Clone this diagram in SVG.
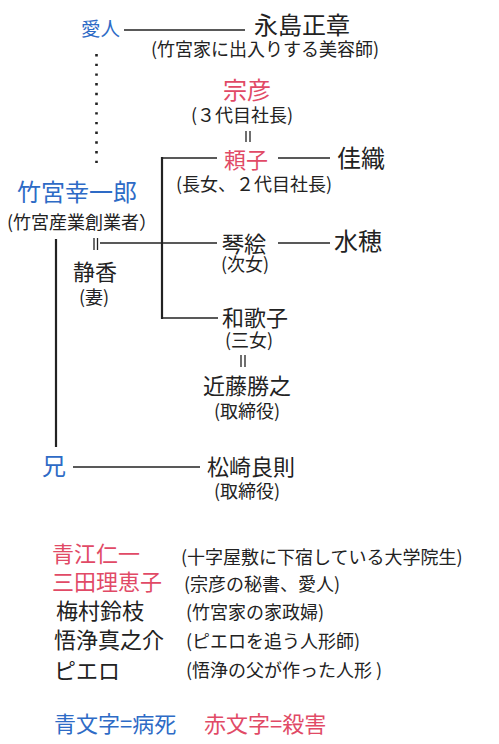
<svg xmlns="http://www.w3.org/2000/svg" width="499" height="744" viewBox="0 0 499 744">
<style>
text{font-family:"Noto Sans CJK JP","Noto Sans",sans-serif;fill:#222}
.n{font-size:22px}
.b{font-size:24px}
.s{font-size:18px}
.blue{fill:#2e6bc6}
.red{fill:#e14a66}
.ln{stroke:#222;stroke-width:1.6;fill:none}
.v{stroke:#222;stroke-width:2.2;fill:none}
.eq{stroke:#222;stroke-width:1.3;fill:none}
</style>
<rect width="499" height="744" fill="#fff"/>
<g id="connectors">
<line class="ln" x1="124" y1="30" x2="245" y2="30"/>
<line x1="96.5" y1="54" x2="96.5" y2="164" stroke="#222" stroke-width="2.6" stroke-dasharray="2.4 7.3"/>
<path class="eq" d="M246 131V142M250 131V142"/>
<line class="ln" x1="162" y1="158" x2="217" y2="158"/>
<line class="v" x1="162" y1="157" x2="162" y2="319"/>
<line class="ln" x1="278" y1="158" x2="330" y2="158"/>
<line class="v" x1="56" y1="239" x2="56" y2="447"/>
<path class="eq" d="M94 238V250M97.5 238V250"/>
<line class="ln" x1="100" y1="243" x2="217" y2="243"/>
<line class="ln" x1="278" y1="243" x2="330" y2="243"/>
<line class="ln" x1="162" y1="318" x2="218" y2="318"/>
<path class="eq" d="M241 355V367M245 355V367"/>
<line class="ln" x1="73" y1="467" x2="200" y2="467"/>
</g>
<g id="aijin"><text class="blue" font-size="19.5" x="81" y="36">愛人</text></g>
<g id="nagashima"><text class="b" x="254" y="34">永島正章</text><text class="s" x="151" y="56">(竹宮家に出入りする美容師)</text></g>
<g id="munehiko"><text class="b red" x="223" y="99">宗彦</text><text class="s" x="191" y="122">(３代目社長)</text></g>
<g id="yoriko"><text class="n red" x="224" y="168">頼子</text><text class="s" x="176" y="191">(長女、２代目社長)</text></g>
<g id="kaori"><text class="b" x="337" y="167">佳織</text></g>
<g id="koichiro"><text class="b blue" x="17" y="201">竹宮幸一郎</text><text class="s" x="7" y="229">(竹宮産業創業者）</text></g>
<g id="kotoe"><text class="n" x="222" y="252">琴絵</text><text class="s" x="221" y="271">(次女)</text></g>
<g id="mizuho"><text class="b" x="334" y="250">水穂</text></g>
<g id="shizuka"><text class="n" x="73" y="280">静香</text><text class="s" x="79" y="304">(妻)</text></g>
<g id="wakako"><text class="n" x="222" y="326">和歌子</text><text class="s" x="225" y="347">(三女)</text></g>
<g id="kondo"><text class="n" x="203" y="394">近藤勝之</text><text class="s" x="214" y="418">(取締役)</text></g>
<g id="ani"><text class="b blue" x="42" y="475">兄</text></g>
<g id="matsuzaki"><text class="n" x="207" y="475">松崎良則</text><text class="s" x="214" y="498">(取締役)</text></g>
<g id="legend">
<text class="n red" x="52" y="562">青江仁一</text><text class="s" x="181" y="564" font-size="19">(十字屋敷に下宿している大学院生)</text>
<text class="n red" x="52" y="590">三田理恵子</text><text class="s" x="184" y="591">(宗彦の秘書、愛人)</text>
<text class="n" x="56" y="619">梅村鈴枝</text><text class="s" x="186" y="619">(竹宮家の家政婦)</text>
<text class="n" x="54" y="648">悟浄真之介</text><text class="s" x="186" y="648">(ピエロを追う人形師)</text>
<text class="n" x="54" y="679">ピエロ</text><text class="s" x="186" y="677">(悟浄の父が作った人形 )</text>
<text class="n blue" x="54" y="732">青文字=病死</text><text class="n red" x="204" y="732">赤文字=殺害</text>
</g>
</svg>
